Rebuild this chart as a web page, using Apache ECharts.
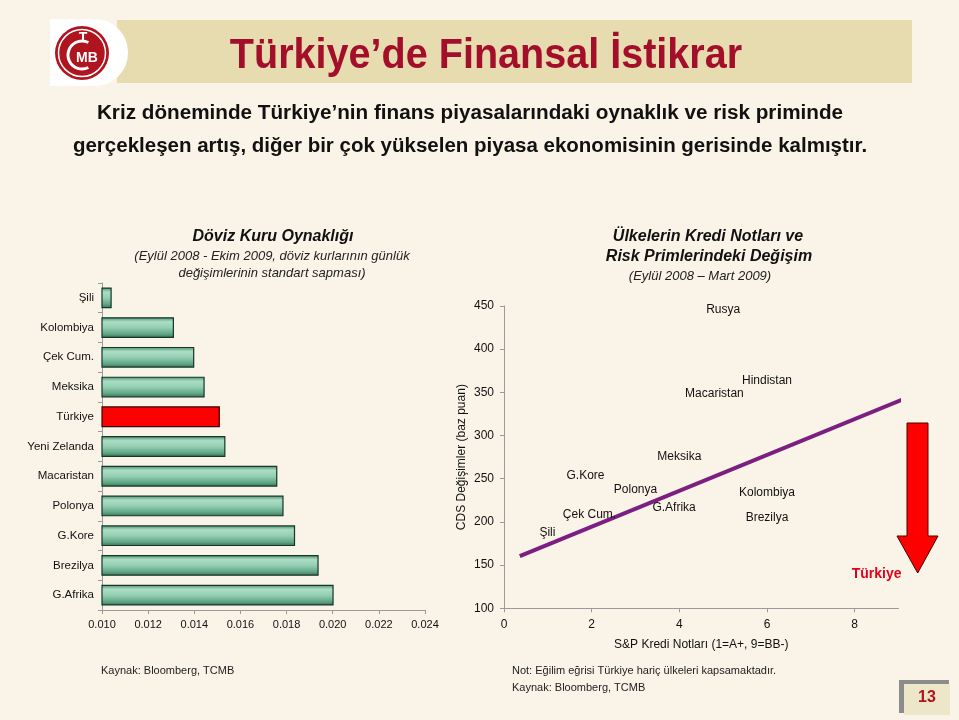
<!DOCTYPE html>
<html>
<head>
<meta charset="utf-8">
<script src="https://cdn.jsdelivr.net/npm/echarts@6/dist/echarts.min.js"></script>
<style>
html,body{margin:0;padding:0;background:#FAF3E8;}
#c{width:959px;height:720px;}
</style>
</head>
<body>
<div id="c"></div>
<script>
// ---- Data: left chart (FX volatility) ----
const barCategories = ['Şili','Kolombiya','Çek Cum.','Meksika','Türkiye','Yeni Zelanda','Macaristan','Polonya','G.Kore','Brezilya','G.Afrika'];
const barValues = [0.01042, 0.01312, 0.0140, 0.01445, 0.01511, 0.01535, 0.0176, 0.01787, 0.01837, 0.01939, 0.02004];
const highlightCategory = 'Türkiye';

// ---- Data: right chart (ratings vs CDS change) ----
const scatterNames   = ['Rusya','Hindistan','Macaristan','Meksika','G.Kore','Polonya','Kolombiya','G.Afrika','Çek Cum.','Brezilya','Şili'];
const scatterRatings = [5.0, 6.0, 4.8, 4.0, 1.86, 3.0, 6.0, 3.88, 1.95, 6.0, 0.99];
const scatterCds     = [446, 363, 349, 275, 254, 237, 234, 216, 208, 205, 188];
const turkeyName = 'Türkiye';
const turkeyRating = 8.5;
const turkeyCds = 139;
const trendX = [0.36, 9.1];
const trendY = [160.5, 342];

const FONT = '"Liberation Sans", Arial, sans-serif';

const chart = echarts.init(document.getElementById('c'), null, {renderer:'canvas'});

const greenGrad = new echarts.graphic.LinearGradient(0,0,0,1,[
  {offset:0, color:'#438f6c'},
  {offset:0.22, color:'#addcc5'},
  {offset:0.5, color:'#94cfb3'},
  {offset:0.8, color:'#62a786'},
  {offset:1, color:'#327556'}
]);

const barData = barCategories.map((c,i)=>({
  value: barValues[i],
  itemStyle: c===highlightCategory ? {color:'#FF0000', borderColor:'#3a0000'} : {}
}));

const scatterData = scatterNames.map((n,i)=>({name:n, value:[scatterRatings[i], scatterCds[i]]}));
scatterData.push({name:turkeyName, value:[turkeyRating, turkeyCds],
  label:{color:'#E3001B', fontWeight:'bold', fontSize:14}});

const axisGray = '#9a9a9a';

const option = {
  backgroundColor:'#FAF3E8',
  animation:false,
  textStyle:{fontFamily:FONT},
  grid:[
    {left:102, top:283, width:323, height:327},
    {left:504, top:306, width:394.5, height:302.3}
  ],
  xAxis:[
    {gridIndex:0, type:'value', min:0.010, max:0.024, interval:0.002,
     axisLine:{show:true, lineStyle:{color:axisGray}},
     axisTick:{show:true, length:4, lineStyle:{color:axisGray}},
     splitLine:{show:false},
     axisLabel:{color:'#111', fontSize:11, margin:9, fontFamily:FONT, formatter:v=>v.toFixed(3)}},
    {gridIndex:1, type:'value', min:0, max:9, interval:2,
     name:'S&P Kredi Notları (1=A+, 9=BB-)', nameLocation:'middle', nameGap:30,
     nameTextStyle:{color:'#111', fontSize:12, fontFamily:FONT},
     axisLine:{show:true, lineStyle:{color:axisGray}},
     axisTick:{show:true, length:4, lineStyle:{color:axisGray}},
     splitLine:{show:false},
     axisLabel:{color:'#111', fontSize:12, margin:10, fontFamily:FONT, showMaxLabel:false}}
  ],
  yAxis:[
    {gridIndex:0, type:'category', data:barCategories, inverse:true,
     axisLine:{show:true, lineStyle:{color:axisGray}},
     axisTick:{show:true, length:4, lineStyle:{color:axisGray}},
     axisLabel:{color:'#111', fontSize:11.5, margin:8, fontFamily:FONT}},
    {gridIndex:1, type:'value', min:100, max:450, interval:50,
     name:'CDS Değişimler (baz puan)', nameLocation:'middle', nameRotate:90, nameGap:36,
     nameTextStyle:{color:'#111', fontSize:12, fontFamily:FONT},
     axisLine:{show:true, lineStyle:{color:axisGray}},
     axisTick:{show:true, length:4, lineStyle:{color:axisGray}},
     splitLine:{show:false},
     axisLabel:{color:'#111', fontSize:12, margin:10, fontFamily:FONT}}
  ],
  series:[
    {type:'bar', xAxisIndex:0, yAxisIndex:0, data:barData, barCategoryGap:'30%',
     itemStyle:{color:greenGrad, borderColor:'#17352a', borderWidth:1.2}},
    {type:'line', xAxisIndex:1, yAxisIndex:1, data:trendX.map((x,i)=>[x,trendY[i]]),
     symbol:'none', clip:false, lineStyle:{color:'#7B1F80', width:4}, z:2},
    {type:'scatter', xAxisIndex:1, yAxisIndex:1, data:scatterData, symbolSize:1,
     itemStyle:{color:'rgba(0,0,0,0)', opacity:1}, z:3,
     label:{show:true, position:'inside', formatter:p=>p.name, color:'#111', fontSize:12, fontFamily:FONT}}
  ],
  graphic:[
    // header band
    {type:'rect', shape:{x:117, y:20, width:795, height:63}, style:{fill:'#E7DBB0'}, silent:true},
    {type:'rect', shape:{x:50, y:19, width:78, height:67, r:[0,33,33,0]}, style:{fill:'#FFFFFF'}, silent:true},
    // logo
    {type:'circle', shape:{cx:82, cy:53, r:27}, style:{fill:'#B0141E'}},
    {type:'circle', shape:{cx:82, cy:53, r:23.5}, style:{fill:'none', stroke:'#FFFFFF', lineWidth:1.5}},
    {type:'arc', shape:{cx:82, cy:55, r:14, startAngle:Math.PI*0.35, endAngle:Math.PI*1.65, clockwise:true},
     style:{fill:'none', stroke:'#FFFFFF', lineWidth:3}},
    {type:'text', style:{x:83, y:38, text:'T', fill:'#FFFFFF', font:'bold 14px '+FONT, align:'center', verticalAlign:'middle'}},
    {type:'text', style:{x:87, y:58, text:'MB', fill:'#FFFFFF', font:'bold 14px '+FONT, align:'center', verticalAlign:'middle'}},
    // title
    {type:'text', x:486, y:56, scaleX:0.92, style:{x:0, y:0, text:'Türkiye’de Finansal İstikrar', fill:'#A30F2B',
      font:'bold 43px '+FONT, align:'center', verticalAlign:'middle'}},
    {type:'text', style:{x:470, y:113, text:'Kriz döneminde Türkiye’nin finans piyasalarındaki oynaklık ve risk priminde',
      fill:'#111', font:'bold 20.7px '+FONT, align:'center', verticalAlign:'middle'}},
    {type:'text', style:{x:470, y:146, text:'gerçekleşen artış, diğer bir çok yükselen piyasa ekonomisinin gerisinde kalmıştır.',
      fill:'#111', font:'bold 20.5px '+FONT, align:'center', verticalAlign:'middle'}},
    // left chart titles
    {type:'text', style:{x:273, y:237, text:'Döviz Kuru Oynaklığı', fill:'#111', font:'italic bold 16px '+FONT, align:'center', verticalAlign:'middle'}},
    {type:'text', style:{x:272, y:256, text:'(Eylül 2008 - Ekim 2009, döviz kurlarının günlük', fill:'#222', font:'italic 13px '+FONT, align:'center', verticalAlign:'middle'}},
    {type:'text', style:{x:272, y:273, text:'değişimlerinin standart sapması)', fill:'#222', font:'italic 13px '+FONT, align:'center', verticalAlign:'middle'}},
    // right chart titles
    {type:'text', style:{x:708, y:237, text:'Ülkelerin Kredi Notları ve', fill:'#111', font:'italic bold 16px '+FONT, align:'center', verticalAlign:'middle'}},
    {type:'text', style:{x:709, y:257, text:'Risk Primlerindeki Değişim', fill:'#111', font:'italic bold 16px '+FONT, align:'center', verticalAlign:'middle'}},
    {type:'text', style:{x:700, y:276, text:'(Eylül 2008 – Mart 2009)', fill:'#222', font:'italic 13px '+FONT, align:'center', verticalAlign:'middle'}},
    // arrow
    {type:'polygon', shape:{points:[[907,423],[928,423],[928,536],[938,536],[917.7,573],[897,536],[907,536]]},
     style:{fill:'#FF0000', stroke:'#4a0000', lineWidth:1}},
    // footers
    {type:'text', style:{x:101, y:671, text:'Kaynak: Bloomberg, TCMB', fill:'#222', font:'11px '+FONT, verticalAlign:'middle'}},
    {type:'text', style:{x:512, y:671, text:'Not: Eğilim eğrisi Türkiye hariç ülkeleri kapsamaktadır.', fill:'#222', font:'11px '+FONT, verticalAlign:'middle'}},
    {type:'text', style:{x:512, y:688, text:'Kaynak: Bloomberg, TCMB', fill:'#222', font:'11px '+FONT, verticalAlign:'middle'}},
    // page number box
    {type:'rect', shape:{x:899, y:680, width:50, height:33}, style:{fill:'#8c8c8c'}},
    {type:'rect', shape:{x:904, y:684, width:46, height:31}, style:{fill:'#EEE6C8'}},
    {type:'text', style:{x:927, y:698, text:'13', fill:'#B0141E', font:'bold 16px '+FONT, align:'center', verticalAlign:'middle'}}
  ]
};
chart.setOption(option);
</script>
</body>
</html>
